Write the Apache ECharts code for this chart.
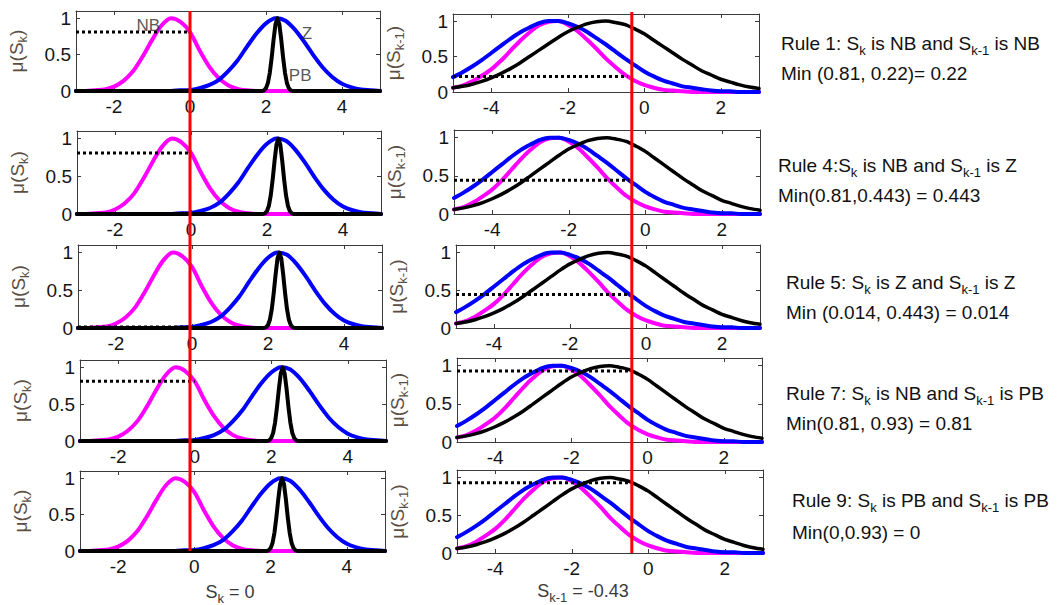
<!DOCTYPE html>
<html>
<head>
<meta charset="utf-8">
<title>Fuzzy rule firing strengths</title>
<script src="https://cdn.jsdelivr.net/npm/echarts@6.0.0/dist/echarts.min.js"></script>
<style>
  html, body { margin: 0; padding: 0; background: #ffffff; }
  #chart { width: 1063px; height: 605px; }
</style>
</head>
<body>
<div id="chart"></div>
<script>
// ---------------- data ----------------
// Membership functions of S_k, as (x, mu) samples
const skNB = [[-3,0],[-2.75,0],[-2.5,0.01],[-2.25,0.02],[-2,0.06],[-1.75,0.14],[-1.5,0.27],[-1.25,0.47],[-1,0.7],[-0.75,0.9],[-0.5,1],[-0.25,0.95],[0,0.81],[0.25,0.56],[0.5,0.34],[0.75,0.18],[1,0.08],[1.25,0.03],[1.5,0.01],[1.75,0],[2,0],[3,0],[4,0],[5,0]];
const skZ = [[-3,0],[-1,0],[-0.5,0],[-0.25,0.01],[0,0.014],[0.25,0.04],[0.5,0.08],[0.75,0.15],[1,0.27],[1.25,0.42],[1.5,0.61],[1.75,0.79],[2,0.93],[2.25,1],[2.5,0.97],[2.75,0.85],[3,0.68],[3.25,0.49],[3.5,0.32],[3.75,0.19],[4,0.1],[4.25,0.05],[4.5,0.02],[4.75,0.01],[5,0]];
const skPB = [[-3,0],[1.9,0],[1.95,0.01],[2,0.04],[2.05,0.11],[2.1,0.25],[2.15,0.46],[2.2,0.71],[2.25,0.92],[2.3,1],[2.35,0.92],[2.4,0.71],[2.45,0.46],[2.5,0.25],[2.55,0.11],[2.6,0.04],[2.65,0.01],[2.7,0],[5,0]];

// Membership functions of S_{k-1}, sampled on a shared x grid
const skPrevX  = [-5,-4.75,-4.5,-4.25,-4,-3.75,-3.5,-3.25,-3,-2.75,-2.5,-2.25,-2,-1.75,-1.5,-1.25,-1,-0.75,-0.5,-0.25,0,0.25,0.5,0.75,1,1.25,1.5,1.75,2,2.25,2.5,2.75,3];
const skPrevNB = [0.06,0.09,0.15,0.23,0.32,0.44,0.58,0.72,0.84,0.94,0.99,1,0.95,0.86,0.74,0.61,0.47,0.35,0.24,0.16,0.1,0.06,0.03,0.02,0.01,0,0,0,0,0,0,0,0];
const skPrevZ  = [0.21,0.28,0.36,0.45,0.55,0.65,0.75,0.84,0.91,0.97,1,1,0.97,0.92,0.85,0.76,0.67,0.57,0.47,0.38,0.29,0.22,0.16,0.12,0.08,0.06,0.04,0.02,0.01,0.01,0,0,0];
const skPrevPB = [0.06,0.08,0.11,0.15,0.2,0.26,0.33,0.41,0.5,0.59,0.68,0.77,0.85,0.91,0.96,0.99,1,0.98,0.95,0.89,0.82,0.73,0.64,0.55,0.46,0.38,0.3,0.24,0.18,0.14,0.1,0.07,0.05];

// Crisp inputs
const skInput = 0;
const skPrevInput = -0.43;

// Fired rules: membership degree of each input and the resulting strength
const ruleNames   = ['Rule 1: ', 'Rule 4:', 'Rule 5: ', 'Rule 7: ', 'Rule 9: '];
const skTerms     = ['NB', 'NB', 'Z', 'NB', 'PB'];
const skPrevTerms = ['NB', 'Z', 'Z', 'PB', 'PB'];
const muSk        = [0.81, 0.81, 0.014, 0.81, 0];
const muSkPrev    = [0.22, 0.443, 0.443, 0.93, 0.93];
const minTexts    = ['Min (0.81, 0.22)= 0.22', 'Min(0.81,0.443) = 0.443', 'Min (0.014, 0.443) = 0.014', 'Min(0.81, 0.93) = 0.81', 'Min(0,0.93) = 0'];

// Term names written next to the S_k curves in the first panel
const termNames = ['NB', 'Z', 'PB'];

// Tick labels
const skTicks = [-2, 0, 2, 4];
const skPrevTicks = [-4, -2, 0, 2];
const muTicks = [0, 0.5, 1];

// ---------------- layout & style ----------------
const FONT = '"Liberation Sans", Arial, Helvetica, sans-serif';
const AXIS_COLOR = '#3a3a3a';
const LABEL_COLOR = '#151515';
const NAME_COLOR = '#5b4e44';
const MAGENTA = '#ff00ff', BLUE = '#0000ff', BLACK = '#000000', RED = '#ff0000';

const leftBoxes  = [[76, 11, 304, 80], [77, 131, 304, 83], [78, 245, 304, 83], [80, 360, 306, 81], [80, 471, 305, 80]];
const rightBoxes = [[453, 14, 306, 78], [454, 130, 306, 84], [456, 245, 304, 83], [457, 358, 305, 84], [457, 470, 306, 83]];
const ruleTextPos = [[781, 43, 73], [778, 165, 195], [786, 282, 312], [786, 393, 423], [792, 500, 532]];
const termAnchors = [[-1.1, 0.9], [3.08, 0.79], [2.9, 0.21]];

const grids = [], xAxes = [], yAxes = [], series = [], graphics = [];

function xAxisDef(gi, pos, min, max, ticks, withLabels) {
  return {
    type: 'value', gridIndex: gi, position: pos, min: min, max: max,
    axisLine: { show: true, onZero: false, lineStyle: { color: AXIS_COLOR, width: 1 } },
    axisTick: { show: true, inside: true, length: 4, customValues: ticks, lineStyle: { color: AXIS_COLOR, width: 1 } },
    axisLabel: { show: withLabels, customValues: ticks, margin: 6, fontSize: 19, fontFamily: FONT, color: LABEL_COLOR },
    splitLine: { show: false }
  };
}

function yAxisDef(gi, pos, withLabels, name, gap) {
  const ax = {
    type: 'value', gridIndex: gi, position: pos, min: 0, max: 1.1,
    axisLine: { show: true, onZero: false, lineStyle: { color: AXIS_COLOR, width: 1 } },
    axisTick: { show: true, inside: true, length: 4, customValues: muTicks, lineStyle: { color: AXIS_COLOR, width: 1 } },
    axisLabel: { show: withLabels, customValues: muTicks, margin: 5, fontSize: 19, fontFamily: FONT, color: LABEL_COLOR },
    splitLine: { show: false }
  };
  if (name) {
    ax.name = name;
    ax.nameLocation = 'middle';
    ax.nameGap = gap;
    ax.nameTextStyle = {
      rich: {
        m: { fontSize: 19, fontFamily: FONT, color: NAME_COLOR },
        s: { fontSize: 13, fontFamily: FONT, color: NAME_COLOR, padding: [12, 0, 0, 0] }
      }
    };
  }
  return ax;
}

function addPanel(box, xMin, xMax, ticks, name, gap, curves, dotX, dotY) {
  const gi = grids.length;
  grids.push({ left: box[0], top: box[1], width: box[2], height: box[3], containLabel: false, outerBoundsMode: 'none' });
  const xi = xAxes.length, yi = yAxes.length;
  xAxes.push(xAxisDef(gi, 'bottom', xMin, xMax, ticks, true));
  xAxes.push(xAxisDef(gi, 'top', xMin, xMax, ticks, false));
  yAxes.push(yAxisDef(gi, 'left', true, name, gap));
  yAxes.push(yAxisDef(gi, 'right', false));
  curves.forEach((c, k) => {
    series.push({
      type: 'line', xAxisIndex: xi, yAxisIndex: yi, data: c.data,
      symbol: 'none', showSymbol: false, smooth: c.smooth, silent: true, z: 2 + k,
      lineStyle: { color: c.color, width: c.width, cap: 'round', join: 'round' }
    });
  });
  // degree of membership at the crisp input
  series.push({
    type: 'line', xAxisIndex: xi, yAxisIndex: yi, data: [[xMin, dotY], [dotX, dotY]],
    symbol: 'none', showSymbol: false, silent: true, z: 6,
    lineStyle: { color: BLACK, width: 3, type: [3, 3] }
  });
  return { xi: xi, yi: yi };
}

const zipPrev = ys => skPrevX.map((x, i) => [x, ys[i]]);

for (let r = 0; r < 5; r++) {
  const left = addPanel(leftBoxes[r], -3, 5, skTicks, '{m|\u03bc(S}{s|k}{m|)}', 47, [
    { data: skNB, color: MAGENTA, width: 4, smooth: 0.3 },
    { data: skZ, color: BLUE, width: 4, smooth: 0.3 },
    { data: skPB, color: BLACK, width: 4, smooth: false }
  ], skInput, muSk[r]);
  if (r === 0) {
    series.push({
      type: 'scatter', xAxisIndex: left.xi, yAxisIndex: left.yi, symbolSize: 1, silent: true, z: 7,
      itemStyle: { color: 'rgba(0,0,0,0)' },
      data: termNames.map((n, i) => ({ name: n, value: termAnchors[i] })),
      label: { show: true, position: 'inside', formatter: '{b}', fontSize: 17, fontFamily: FONT, color: '#2b2b2b' }
    });
  }
  addPanel(rightBoxes[r], -5, 3, skPrevTicks, '{m|\u03bc(S}{s|k-1}{m|)}', 47, [
    { data: zipPrev(skPrevNB), color: MAGENTA, width: 4, smooth: 0.3 },
    { data: zipPrev(skPrevZ), color: BLUE, width: 4, smooth: 0.3 },
    { data: zipPrev(skPrevPB), color: BLACK, width: 3.5, smooth: 0.3 }
  ], skPrevInput, muSkPrev[r]);
}

// Full-height overlays carrying the crisp input markers
function addInputLine(box, xMin, xMax, value) {
  const gi = grids.length;
  grids.push({ left: box[0], top: box[1], width: box[2], height: box[3], containLabel: false, outerBoundsMode: 'none' });
  const xi = xAxes.length, yi = yAxes.length;
  xAxes.push({ type: 'value', gridIndex: gi, min: xMin, max: xMax, show: false });
  yAxes.push({ type: 'value', gridIndex: gi, min: 0, max: 1, show: false });
  series.push({
    type: 'line', xAxisIndex: xi, yAxisIndex: yi, data: [[value, 0], [value, 1]],
    symbol: 'none', showSymbol: false, silent: true, z: 9, clip: false,
    lineStyle: { color: RED, width: 3 }
  });
}
addInputLine([76, 11, 304, 540], -3, 5, skInput);
addInputLine([457, 12, 306, 541], -5, 3, skPrevInput);

// Rule descriptions
const ruleRich = {
  t: { fontSize: 19, fontFamily: FONT, fill: '#111111', color: '#111111' },
  s: { fontSize: 13, fontFamily: FONT, fill: '#111111', color: '#111111', padding: [14, 0, 0, 0] }
};
for (let r = 0; r < 5; r++) {
  const p = ruleTextPos[r];
  graphics.push({
    type: 'text', x: p[0], y: p[1], silent: true, z: 10,
    style: {
      text: '{t|' + ruleNames[r] + 'S}{s|k}{t| is ' + skTerms[r] + ' and S}{s|k-1}{t| is ' + skPrevTerms[r] + '}',
      rich: ruleRich, fill: '#111111', fontSize: 19, fontFamily: FONT,
      align: 'left', verticalAlign: 'middle', textAlign: 'left', textVerticalAlign: 'middle'
    }
  });
  graphics.push({
    type: 'text', x: p[0], y: p[2], silent: true, z: 10,
    style: {
      text: minTexts[r], fill: '#111111', fontSize: 19, fontFamily: FONT,
      font: '19px ' + FONT,
      align: 'left', verticalAlign: 'middle', textAlign: 'left', textVerticalAlign: 'middle'
    }
  });
}

// Input captions under the bottom panels
const capRich = {
  t: { fontSize: 18, fontFamily: FONT, fill: '#3a3a3a', color: '#3a3a3a' },
  s: { fontSize: 13, fontFamily: FONT, fill: '#3a3a3a', color: '#3a3a3a', padding: [12, 0, 0, 0] }
};
graphics.push({
  type: 'text', x: 230, y: 592, silent: true,
  style: { text: '{t|S}{s|k}{t| = ' + skInput + '}', rich: capRich, align: 'center', verticalAlign: 'middle', textAlign: 'center', textVerticalAlign: 'middle' }
});
graphics.push({
  type: 'text', x: 583, y: 591, silent: true,
  style: { text: '{t|S}{s|k-1}{t| = ' + skPrevInput + '}', rich: capRich, align: 'center', verticalAlign: 'middle', textAlign: 'center', textVerticalAlign: 'middle' }
});

const chart = echarts.init(document.getElementById('chart'), null, { renderer: 'svg', width: 1063, height: 605 });
chart.setOption({
  animation: false,
  backgroundColor: '#ffffff',
  grid: grids,
  xAxis: xAxes,
  yAxis: yAxes,
  series: series,
  graphic: { elements: graphics }
});
</script>
</body>
</html>
